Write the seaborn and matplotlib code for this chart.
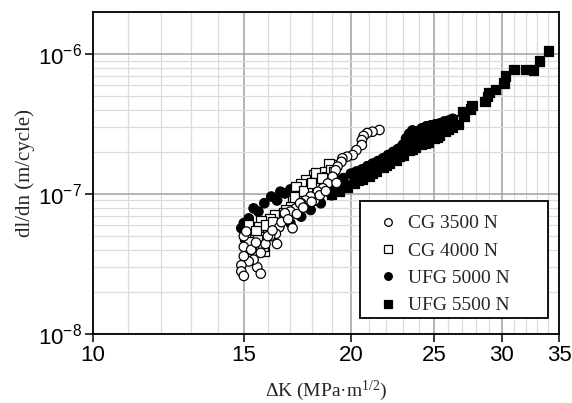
import matplotlib
matplotlib.use("Agg")
import matplotlib.pyplot as plt
import matplotlib.ticker as mticker
from matplotlib.lines import Line2D
from matplotlib.patches import Rectangle
import numpy as np
import pandas as pd
import seaborn as sns

# values, rates in units of 1e-7 m/cycle
cg3500_dk = [21.6, 21.2, 20.9, 20.7, 20.6, 20.6, 20.3, 20.1, 19.8, 19.55, 19.5, 19.3,
             19.2, 19.05, 18.8, 18.55, 18.3, 18.15, 17.95, 17.7, 17.5, 17.25, 17.0,
             17.1, 16.75, 16.5, 16.35, 16.4, 16.1, 15.9, 15.7, 15.55, 15.7, 15.4,
             15.2, 15.0, 14.9, 14.9, 15.0, 15.0, 15.0, 15.1, 19.25, 16.75, 17.45,
             15.3, 15.5, 16.0, 16.2, 16.6, 16.9, 17.3, 17.6, 18.0, 18.4, 18.7]
cg3500_rate = [2.87, 2.79, 2.73, 2.6, 2.43, 2.24, 2.06, 1.9, 1.85, 1.8, 1.7, 1.57,
               1.48, 1.33, 1.19, 1.1, 1.04, 0.9, 0.96, 0.9, 0.86, 0.79, 0.75,
               0.57, 0.69, 0.58, 0.52, 0.44, 0.5, 0.44, 0.38, 0.30, 0.27, 0.34,
               0.33, 0.36, 0.31, 0.28, 0.26, 0.42, 0.5, 0.54, 1.2, 0.73, 0.86,
               0.40, 0.45, 0.50, 0.55, 0.63, 0.66, 0.72, 0.80, 0.88, 0.98, 1.05]

cg4000_dk = [19.05, 18.85, 18.65, 18.75, 18.3, 18.1, 18.15, 17.8, 17.7, 17.5, 17.25,
             17.35, 17.1, 17.0, 16.8, 16.6, 16.45, 16.3, 16.1, 16.0, 15.7, 15.6,
             15.4, 15.55, 15.3, 15.2, 15.85, 15.8, 15.05, 15.2, 15.2, 18.2, 18.95,
             15.5, 15.9, 16.2, 16.7, 17.2, 17.6, 18.0, 18.5, 19.1]
cg4000_rate = [1.61, 1.66, 1.44, 1.33, 1.29, 1.37, 1.16, 1.1, 1.26, 1.19, 1.13,
               0.98, 0.9, 0.81, 0.77, 0.69, 0.62, 0.71, 0.67, 0.58, 0.65, 0.58,
               0.52, 0.47, 0.44, 0.40, 0.39, 0.42, 0.5, 0.6, 0.46, 1.41, 1.5,
               0.55, 0.60, 0.63, 0.74, 0.95, 1.05, 1.20, 1.30, 1.45]

ufg5000_dk = [14.9, 15.0, 15.2, 15.4, 15.6, 15.85, 16.15, 16.4, 16.55, 16.75, 17.0,
              17.3, 17.6, 16.4, 17.0, 17.5, 17.95, 18.2, 18.45, 19.0, 19.0, 19.3,
              19.5, 19.8, 20.0, 20.3, 20.6, 20.9, 21.2, 21.5, 21.8, 22.1, 22.4,
              22.7, 23.0, 23.2, 23.4, 23.6, 23.9, 24.2, 24.5, 24.8, 25.1, 25.4,
              25.7, 26.0, 26.3, 20.2, 20.8, 21.4, 22.0, 22.6, 23.2, 23.8, 24.4,
              25.0, 25.6, 26.2, 19.6, 21.0, 22.3, 23.5, 24.0, 24.7, 25.3]
ufg5000_rate = [0.57, 0.62, 0.67, 0.79, 0.75, 0.86, 0.96, 0.9, 1.04, 1.01, 1.08,
                1.1, 1.12, 0.65, 0.62, 0.69, 0.77, 0.9, 0.86, 0.98, 1.07, 1.2,
                1.1, 1.16, 1.4, 1.45, 1.5, 1.58, 1.65, 1.72, 1.8, 1.9, 2.0,
                2.1, 2.25, 2.5, 2.7, 2.85, 2.8, 2.95, 3.05, 3.1, 3.15, 3.2,
                3.3, 3.35, 3.45, 1.3, 1.42, 1.55, 1.72, 1.92, 2.15, 2.45, 2.6,
                2.8, 3.0, 3.2, 1.3, 1.5, 1.8, 2.3, 2.6, 2.85, 3.0]

ufg5500_dk = [19.0, 19.4, 19.8, 20.2, 20.6, 21.0, 21.4, 21.8, 22.2, 22.6, 23.0, 23.4,
              23.8, 24.2, 24.6, 25.0, 25.4, 25.8, 26.3, 26.7, 25.9, 26.3, 27.0, 27.1,
              27.6, 27.7, 28.7, 28.9, 29.0, 29.5, 30.2, 30.3, 31.0, 32.0, 32.7,
              33.2, 34.0, 20.4, 21.2, 22.0, 22.8, 23.6, 24.4, 25.2, 26.0]
ufg5500_rate = [1.0, 1.05, 1.12, 1.2, 1.28, 1.35, 1.45, 1.55, 1.65, 1.75, 1.9, 2.05,
                2.15, 2.25, 2.35, 2.5, 2.65, 2.8, 3.0, 3.15, 3.24, 3.4, 3.9, 3.57,
                4.06, 4.3, 4.6, 5.0, 5.3, 5.6, 6.2, 7.0, 7.8, 7.8, 7.7,
                8.9, 10.5, 1.25, 1.4, 1.6, 1.85, 2.1, 2.3, 2.55, 2.9]

labels = ["CG 3500 N", "CG 4000 N", "UFG 5000 N", "UFG 5500 N"]
markers = {"CG 3500 N": "o", "CG 4000 N": "s", "UFG 5000 N": "o", "UFG 5500 N": "s"}
faces = {"CG 3500 N": "white", "CG 4000 N": "white", "UFG 5000 N": "black", "UFG 5500 N": "black"}

x_major = [10, 15, 20, 25, 30, 35]
x_minor = [11, 12, 13, 14, 16, 17, 18, 19, 21, 22, 23, 24, 26, 27, 28, 29, 31, 32, 33, 34]

# filled series first so the open markers sit on top
parts = [
    ("UFG 5500 N", ufg5500_dk, ufg5500_rate),
    ("UFG 5000 N", ufg5000_dk, ufg5000_rate),
    ("CG 4000 N", cg4000_dk, cg4000_rate),
    ("CG 3500 N", cg3500_dk, cg3500_rate),
]
df = pd.concat([pd.DataFrame({"dK": dk, "rate": np.array(r) * 1e-7, "series": name})
                for name, dk, r in parts], ignore_index=True)

sns.set_theme(style="white")
plt.rcParams["font.family"] = ["Liberation Sans", "DejaVu Sans"]
plt.rcParams["mathtext.default"] = "regular"

fig, ax = plt.subplots(figsize=(5.72, 4.03), dpi=100)
fig.subplots_adjust(left=93 / 572, right=559 / 572, top=1 - 12 / 403, bottom=1 - 334 / 403)

sns.scatterplot(data=df, x="dK", y="rate", hue="series", style="series",
                hue_order=labels, style_order=labels, palette=faces, markers=markers,
                s=46, edgecolor="black", linewidth=0.9, legend=False, ax=ax, zorder=3)

ax.set_xscale("log")
ax.set_yscale("log")
ax.set_xlim(10, 35)
ax.set_ylim(1e-8, 2e-6)

ax.xaxis.set_major_locator(mticker.FixedLocator(x_major))
ax.xaxis.set_major_formatter(mticker.FixedFormatter([str(v) for v in x_major]))
ax.xaxis.set_minor_locator(mticker.FixedLocator(x_minor))
ax.xaxis.set_minor_formatter(mticker.NullFormatter())
ax.yaxis.set_major_locator(mticker.LogLocator(base=10, numticks=10))
ax.yaxis.set_minor_locator(mticker.LogLocator(base=10, subs=np.arange(2, 10), numticks=10))
ax.yaxis.set_minor_formatter(mticker.NullFormatter())

ax.grid(which="major", color="#a0a0a0", linewidth=1.1, zorder=0)
ax.grid(which="minor", color="#dcdcdc", linewidth=0.9, zorder=0)
ax.set_axisbelow(True)

for sp in ax.spines.values():
    sp.set_color("black")
    sp.set_linewidth(1.3)

ax.tick_params(which="major", direction="out", length=6, width=1.1, color="black",
               labelsize=16, labelcolor="black", bottom=True, left=True, pad=2)
ax.tick_params(which="minor", length=0)

serif = ["Liberation Serif", "DejaVu Serif"]
ax.set_xlabel(r"ΔK (MPa·m$^{1/2}$)", fontsize=14, family=serif, color="#2a2520", labelpad=9)
ax.set_ylabel("dl/dn (m/cycle)", fontsize=15, family=serif, color="#2a2520", labelpad=2)

# legend box drawn by hand so it keeps the wide right margin of the original
box = Rectangle((360 / 572, 1 - 318 / 403), 188 / 572, 117 / 403, transform=fig.transFigure,
                facecolor="white", edgecolor="black", linewidth=1.3, zorder=4)
fig.patches.append(box)

handles = [Line2D([], [], linestyle="none", marker=markers[k], markersize=5.5,
                  markerfacecolor=faces[k], markeredgecolor="black", markeredgewidth=0.9)
           for k in labels]
leg = fig.legend(handles, labels, loc="upper left", bbox_to_anchor=(372 / 572, 1 - 211 / 403),
                 borderaxespad=0, frameon=False,
                 prop={"family": serif, "size": 14}, labelspacing=0.5, handletextpad=0.45,
                 handlelength=1.2, borderpad=0.2)
leg.set_zorder(5)

fig.savefig("out.png", dpi=100)
